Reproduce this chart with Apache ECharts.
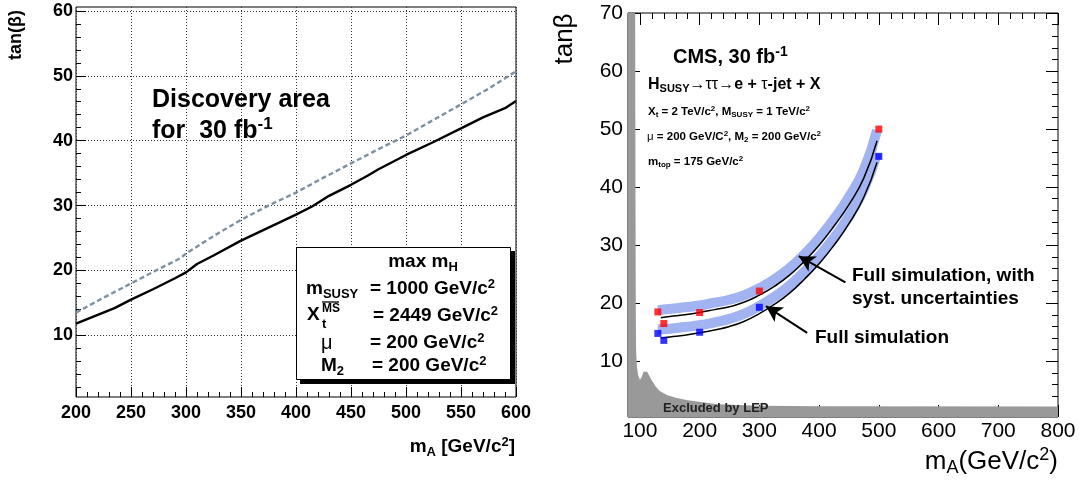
<!DOCTYPE html>
<html><head><meta charset="utf-8">
<script src="https://cdn.jsdelivr.net/npm/echarts@6/dist/echarts.min.js"></script>
<style>html,body{margin:0;padding:0;background:#fff}#c{width:1082px;height:483px}</style>
</head><body><div id="c"></div>
<script>
// ---------- Left panel data ----------
const dashedMA   = [200,225,250,275,295,300,325,350,375,400,425,450,475,500,525,550,575,600];
const dashedTanB = [13.5,15.8,18.0,20.2,21.9,22.6,25.3,27.8,30.0,32.0,34.3,36.5,38.7,40.8,43.2,45.6,48.0,50.7];
const solidMA    = [200,235,250,270,290,300,310,325,350,375,400,415,430,450,465,475,500,525,550,570,590,600];
const solidTanB  = [11.8,14.2,15.5,17.1,18.8,19.7,21.0,22.3,24.6,26.6,28.6,29.9,31.5,33.2,34.6,35.6,37.8,39.8,41.9,43.6,45.0,46.1];
const leftXTicks = [200,250,300,350,400,450,500,550,600];
const leftYTicks = [10,20,30,40,50,60];

// ---------- Right panel data ----------
const lepMA   = [80,92,92.5,93,93.5,95,97,100,103,106,109,112,116,120,126,133,145,160,180,230,300,400,800];
const lepTanB = [70,70,40,20,12,9,7.6,6.8,7.3,8.2,8.5,8.2,7.4,6.7,5.7,4.9,4.2,3.7,3.3,2.6,2.35,2.25,2.2];
const bandMA        = [130,150,175,200,225,250,275,300,325,350,375,400,425,450,475,497];
const upperBandTanB = [18.8,19.0,19.3,19.6,20.1,20.6,21.4,22.6,24.1,26.0,28.4,31.2,34.5,38.3,43.0,49.8];
const lowerBandTanB = [15.5,15.6,15.9,16.2,16.7,17.3,18.2,19.5,21.1,23.0,25.4,28.1,31.3,35.0,39.7,45.8];
const lineMA        = [135,150,175,200,225,250,275,300,325,350,375,400,425,450,475,497];
const upperLineTanB = [17.5,17.7,18.0,18.4,18.9,19.4,20.2,21.4,22.9,24.8,27.2,30.0,33.3,37.0,41.6,48.0];
const lowerLineTanB = [14.0,14.2,14.5,14.9,15.4,16.0,16.9,18.2,19.8,21.7,24.1,26.8,30.0,33.7,38.3,44.3];
const redMA   = [130,140,200,300,500];
const redTanB = [18.5,16.5,18.4,22.1,50.0];
const blueMA   = [130,140,200,300,500];
const blueTanB = [14.8,13.6,15.0,19.3,45.3];
const arrowTail = [[444,23.6],[380,14.9]];
const arrowHead = [[366,28.1],[311,19.5]];
const rightXTicks = [100,200,300,400,500,600,700,800];
const rightYTicks = [10,20,30,40,50,60,70];

const zip = (a,b) => a.map((v,i)=>[v,b[i]]);
function steps(from,to,st){const r=[];for(let v=from;v<=to+1e-9;v+=st)r.push(+v.toFixed(6));return r;}
const FF = '"Liberation Sans", Arial, Helvetica, sans-serif';

const chart = echarts.init(document.getElementById('c'), null, {renderer:'canvas'});

function majorX(grid, min, max, ticks, pos, len, label, lblSize, bold, split){
  return {type:'value', gridIndex:grid, min, max, position:pos,
    axisLine:{show:false}, axisTick:{show:true, inside:true, length:len, customValues:ticks, lineStyle:{color:'#000',width:1}},
    axisLabel:{show:label, customValues:ticks, fontSize:lblSize, fontWeight:bold?'bold':'normal', color:'#000', fontFamily:FF, margin:bold?7:4},
    splitLine:{show:!!split, lineStyle:{type:[1,2], color:'#333', width:1}}};
}
function minorAxis(grid, min, max, ticks, pos, len){
  return {type:'value', gridIndex:grid, min, max, position:pos,
    axisLine:{show:false}, axisTick:{show:true, inside:true, length:len, customValues:ticks, lineStyle:{color:'#000',width:1}},
    axisLabel:{show:false}, splitLine:{show:false}};
}
function majorY(grid, min, max, ticks, pos, len, label, lblSize, bold, split){
  return {type:'value', gridIndex:grid, min, max, position:pos,
    axisLine:{show:false}, axisTick:{show:true, inside:true, length:len, customValues:ticks, lineStyle:{color:'#000',width:1}},
    axisLabel:{show:label, customValues:ticks, fontSize:lblSize, fontWeight:bold?'bold':'normal', color:'#000', fontFamily:FF, margin:bold?3:5},
    splitLine:{show:!!split, lineStyle:{type:[1,2], color:'#333', width:1}}};
}

const rich = (s, bold) => {
  const ss = Math.round(s*0.68);
  return {
    sub:{fontSize:ss, fontWeight:bold?'bold':'normal', fontFamily:FF, verticalAlign:'bottom', padding:[Math.round(s*0.5),0,0,0]},
    sup:{fontSize:ss, fontWeight:bold?'bold':'normal', fontFamily:FF, verticalAlign:'top', padding:[0,0,Math.round(s*0.5),0]},
    n:{fontSize:s, fontWeight:'normal', fontFamily:FF}
  };
};
function txt(x,y,text,size,bold,extra){
  const base = {text, fill:'#000', fontSize:size, fontWeight:bold?'bold':'normal', fontFamily:FF,
      textAlign:'left', textVerticalAlign:'middle', rich:rich(size,bold)};
  const e = Object.assign({type:'text', x, y, z:100, silent:true}, extra||{});
  e.style = Object.assign(base, (extra && extra.style) || {});
  return e;
}

const option = {
  animation:false,
  backgroundColor:'#fff',
  grid:[
    {left:76, top:7, width:440, height:390, show:true, borderColor:'#000', borderWidth:1, backgroundColor:'transparent'},
    {left:628, top:13, width:430, height:404, show:true, borderColor:'#000', borderWidth:1, backgroundColor:'transparent'}
  ],
  xAxis:[
    majorX(0,200,600,leftXTicks,'bottom',10,true,18,true,true),
    minorAxis(0,200,600,steps(200,600,10),'bottom',5),
    majorX(1,80,800,rightXTicks,'bottom',12,true,21,false,false),
    minorAxis(1,80,800,steps(80,800,20),'bottom',6),
    majorX(1,80,800,rightXTicks,'top',12,false,21,false,false),
    minorAxis(1,80,800,steps(80,800,20),'top',6)
  ],
  yAxis:[
    majorY(0,0.5,60.6,leftYTicks,'left',10,true,18,true,true),
    minorAxis(0,0.5,60.6,steps(2,60,2),'left',5),
    majorY(1,0.4,70,rightYTicks,'left',12,true,21,false,false),
    minorAxis(1,0.4,70,steps(2,70,2),'left',6),
    majorY(1,0.4,70,rightYTicks,'right',12,false,21,false,false),
    minorAxis(1,0.4,70,steps(2,70,2),'right',6)
  ],
  series:[
    {type:'line', xAxisIndex:0, yAxisIndex:0, data:zip(dashedMA,dashedTanB), showSymbol:false, symbol:'none',
      lineStyle:{color:'#7d91a2', width:2.4, type:[5,3]}, z:3},
    {type:'line', xAxisIndex:0, yAxisIndex:0, data:zip(solidMA,solidTanB), showSymbol:false, symbol:'none',
      lineStyle:{color:'#000', width:2.4}, z:3},
    {type:'line', xAxisIndex:2, yAxisIndex:2, data:zip(lepMA,lepTanB), showSymbol:false, symbol:'none',
      lineStyle:{width:0, color:'#999'}, areaStyle:{color:'#999999', opacity:1, origin:'start'}, z:2},
    {type:'line', xAxisIndex:2, yAxisIndex:2, data:zip(bandMA,upperBandTanB), smooth:true, showSymbol:false, symbol:'none',
      lineStyle:{color:'#a2b3f1', width:10, cap:'butt'}, z:3},
    {type:'line', xAxisIndex:2, yAxisIndex:2, data:zip(bandMA,lowerBandTanB), smooth:true, showSymbol:false, symbol:'none',
      lineStyle:{color:'#a2b3f1', width:10, cap:'butt'}, z:3},
    {type:'line', xAxisIndex:2, yAxisIndex:2, data:zip(lineMA,upperLineTanB), smooth:true, showSymbol:false, symbol:'none',
      lineStyle:{color:'#000', width:1.5}, z:4},
    {type:'line', xAxisIndex:2, yAxisIndex:2, data:zip(lineMA,lowerLineTanB), smooth:true, showSymbol:false, symbol:'none',
      lineStyle:{color:'#000', width:1.5}, z:4,
      markLine:{silent:true, symbol:['none','arrow'], symbolSize:[13,16], label:{show:false},
        lineStyle:{color:'#000', width:2, type:'solid'},
        data: arrowTail.map((t,i)=>[{coord:t},{coord:arrowHead[i]}])}},
    {type:'scatter', xAxisIndex:2, yAxisIndex:2, data:zip(redMA,redTanB), symbol:'rect', symbolSize:7,
      itemStyle:{color:'#ff0000'}, z:5},
    {type:'scatter', xAxisIndex:2, yAxisIndex:2, data:zip(blueMA,blueTanB), symbol:'rect', symbolSize:7,
      itemStyle:{color:'#0000ff'}, z:5}
  ],
  graphic:[
    // left panel
    txt(16,35,'tan(β)',18,true,{rotation:Math.PI/2, style:{textAlign:'center'}}),
    txt(515,447,'m{sub|A} [GeV/c{sup|2}]',19,true,{style:{textAlign:'right'}}),
    txt(152,100,'Discovery area',25,true),
    txt(152,131,'for  30 fb{sup|-1}',25,true),
    {type:'rect', z:90, silent:true, shape:{x:300,y:251,width:215,height:133}, style:{fill:'#000'}},
    {type:'rect', z:91, silent:true, shape:{x:296.5,y:247.5,width:214,height:132}, style:{fill:'#fff', stroke:'#000', lineWidth:1}},
    txt(423,262,'max m{sub|H}',19,true,{style:{textAlign:'center'}}),
    txt(306,289,'m{sub|SUSY}',19,true),
    txt(370,289,'= 1000 GeV/c{sup|2}',19,true),
    txt(307,315,'X',19,true),
    txt(322,324,'t',13,true),
    txt(322,309,'MS',12,true),
    {type:'line', z:100, silent:true, shape:{x1:322,y1:302,x2:339,y2:302}, style:{stroke:'#000', lineWidth:1.3}},
    txt(373,316,'= 2449 GeV/c{sup|2}',19,true),
    txt(321,343,'μ',20,false),
    txt(370,343,'= 200 GeV/c{sup|2}',19,true),
    txt(321,366,'M{sub|2}',19,true),
    txt(372,366,'= 200 GeV/c{sup|2}',19,true),
    // right panel
    txt(565,39,'tanβ',26,false,{rotation:Math.PI/2, style:{textAlign:'center'}}),
    txt(1058,462,'m{sub|A}(GeV/c{sup|2})',26,false,{style:{textAlign:'right'}}),
    txt(673,57,'CMS, 30 fb{sup|-1}',20,true),
    txt(648,85,'H{sub|SUSY}{n|→ττ→}e + {n|τ}-jet + X',16,true),
    txt(648,112,'X{sub|t} = 2 TeV/c{sup|2}, M{sub|SUSY} = 1 TeV/c{sup|2}',11.5,true),
    txt(647,137,'{n|μ} = 200 GeV/C{sup|2}, M{sub|2} = 200 GeV/c{sup|2}',11.5,true),
    txt(648,162,'m{sub|top} = 175 GeV/c{sup|2}',11.5,true),
    txt(852,276,'Full simulation, with',19,true),
    txt(852,299,'syst. uncertainties',19,true),
    txt(815,338,'Full simulation',19,true),
    txt(663,408,'Excluded by LEP',13,true,{style:{fill:'#222'}})
  ]
};
chart.setOption(option);
</script></body></html>
